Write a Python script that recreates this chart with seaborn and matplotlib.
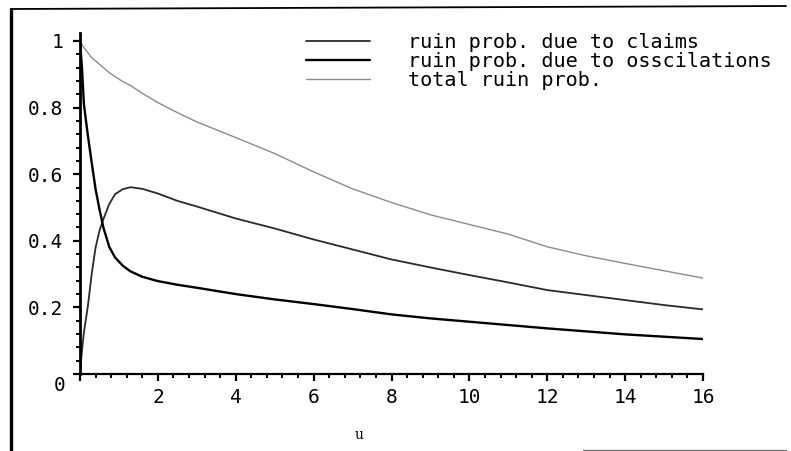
import numpy as np
import pandas as pd
import matplotlib
matplotlib.use("Agg")
import matplotlib.pyplot as plt
from matplotlib.lines import Line2D
from matplotlib.ticker import MultipleLocator, FixedLocator
import seaborn as sns

# initial capital u
u = [0, 0.05, 0.1, 0.2, 0.3, 0.4, 0.5, 0.6, 0.75, 0.9, 1.1, 1.3, 1.6, 2.0, 2.5,
     3.0, 4.0, 5.0, 6.0, 7.0, 8.0, 9.0, 10.0, 11.0, 12.0, 13.0, 14.0, 15.0, 16.0]

# ruin probability caused by claims
ruin_claims = [0.0, 0.07, 0.125, 0.202, 0.30, 0.38, 0.43, 0.465, 0.51, 0.54, 0.555,
               0.561, 0.556, 0.542, 0.52, 0.503, 0.467, 0.437, 0.404, 0.374, 0.344,
               0.32, 0.297, 0.275, 0.252, 0.237, 0.222, 0.207, 0.194]

# ruin probability caused by oscillations
ruin_osc = [1.0, 0.92, 0.81, 0.718, 0.635, 0.555, 0.495, 0.44, 0.382, 0.35, 0.325,
            0.308, 0.292, 0.279, 0.268, 0.259, 0.240, 0.224, 0.210, 0.195, 0.179,
            0.167, 0.157, 0.147, 0.137, 0.128, 0.119, 0.112, 0.105]

# total ruin probability
ruin_total = [1.0, 0.99, 0.98, 0.965, 0.95, 0.94, 0.93, 0.92, 0.905, 0.893, 0.878,
              0.866, 0.843, 0.815, 0.785, 0.757, 0.71, 0.662, 0.607, 0.556, 0.515,
              0.478, 0.449, 0.42, 0.382, 0.355, 0.332, 0.31, 0.288]

labels = ["ruin prob. due to claims",
          "ruin prob. due to osscilations",
          "total ruin prob."]

df = pd.DataFrame({"u": u, labels[0]: ruin_claims,
                   labels[1]: ruin_osc, labels[2]: ruin_total})

sns.set_theme(style="ticks")
plt.rcParams["font.family"] = ["DejaVu Sans Mono"]
plt.rcParams["text.color"] = "black"

W, H = 791, 451
fig = plt.figure(figsize=(W / 100, H / 100), dpi=100)
fig.patch.set_facecolor("white")

ax_left, ax_right, ax_bottom, ax_top = 80, 703, 374, 33
ax = fig.add_axes([ax_left / W, 1 - ax_bottom / H,
                   (ax_right - ax_left) / W, (ax_bottom - ax_top) / H])
ax.set_facecolor("white")

styles = {
    labels[0]: dict(color="#2a2a2a", linewidth=1.3),
    labels[1]: dict(color="black", linewidth=1.7),
    labels[2]: dict(color="#8c8c8c", linewidth=1.0),
}
for name in labels:
    sns.lineplot(data=df, x="u", y=name, ax=ax, label=name, **styles[name])

ax.set_xlim(0, 16)
ax.set_ylim(0, 1.024)
ax.set_ylabel("")
ax.set_xlabel("u", family="DejaVu Serif", fontsize=10, color="black")
ax.xaxis.set_label_coords((359 - ax_left) / (ax_right - ax_left),
                          -(428 - ax_bottom) / (ax_bottom - ax_top))

for side in ("top", "right"):
    ax.spines[side].set_visible(False)
ax.spines["left"].set_linewidth(2.0)
ax.spines["bottom"].set_linewidth(1.6)
ax.spines["left"].set_color("black")
ax.spines["bottom"].set_color("black")

ax.xaxis.set_major_locator(FixedLocator([0, 2, 4, 6, 8, 10, 12, 14, 16]))
ax.set_xticklabels(["", "2", "4", "6", "8", "10", "12", "14", "16"])
ax.xaxis.set_minor_locator(MultipleLocator(0.4))
ax.yaxis.set_major_locator(FixedLocator([0, 0.2, 0.4, 0.6, 0.8, 1.0]))
ax.set_yticklabels(["", "0.2", "0.4", "0.6", "0.8", "1"])
ax.yaxis.set_minor_locator(MultipleLocator(0.04))

ax.tick_params(which="major", direction="out", length=5, width=1.6,
               labelsize=14, colors="black")
ax.tick_params(axis="x", which="major", pad=5)
ax.tick_params(axis="y", which="major", pad=7)
ax.tick_params(which="minor", direction="out", length=3, width=1.4,
               colors="black")
ax.annotate("0", xy=(0, 0), xytext=(-15, -8), textcoords="offset points",
            ha="center", va="center", fontsize=14, color="black")

leg = ax.legend(loc="upper left",
                bbox_to_anchor=((306 - ax_left) / (ax_right - ax_left),
                                (ax_bottom - 33) / (ax_bottom - ax_top)),
                frameon=False, fontsize=14.5, handlelength=3.2,
                handletextpad=1.85, labelspacing=0.0, borderpad=0,
                borderaxespad=0)
for t in leg.get_texts():
    t.set_color("black")

# scanned page frame
fig.add_artist(Line2D([11 / W, 11 / W], [0, 1 - 9 / H], transform=fig.transFigure,
                      color="black", linewidth=2.4))
fig.add_artist(Line2D([11 / W, 786 / W], [1 - 9 / H, 1 - 6 / H],
                      transform=fig.transFigure, color="black", linewidth=1.3))
fig.add_artist(Line2D([583 / W, 786 / W], [1 - 450 / H, 1 - 450 / H],
                      transform=fig.transFigure, color="#777777", linewidth=1.0))

fig.savefig("out.png", dpi=100, facecolor="white")
